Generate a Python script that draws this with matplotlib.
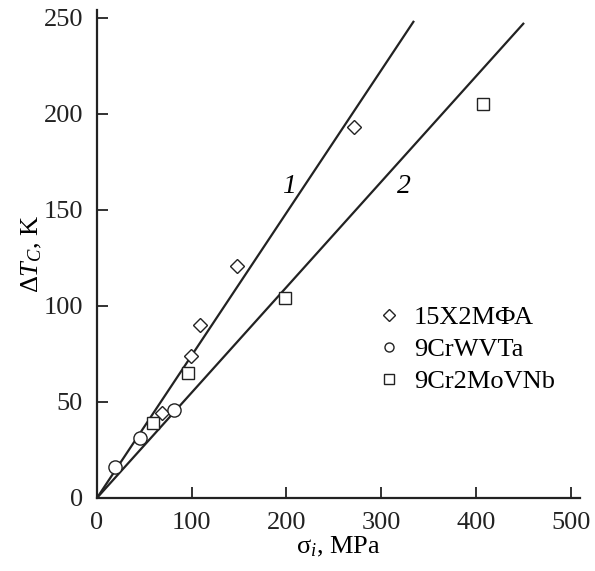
import matplotlib
matplotlib.use('Agg')
import matplotlib.pyplot as plt

plt.rcParams['font.family'] = ['Liberation Serif', 'DejaVu Serif']
plt.rcParams['mathtext.fontset'] = 'custom'
plt.rcParams['mathtext.rm'] = 'Liberation Serif'
plt.rcParams['mathtext.it'] = 'Liberation Serif:italic'

# data
steel_a_x = [69, 99, 109, 148, 271]
steel_a_y = [44, 74, 90, 121, 193]
steel_b_x = [19, 45, 81]
steel_b_y = [16, 31, 46]
steel_c_x = [59, 96, 198, 407]
steel_c_y = [39, 65, 104, 205]
fit1_x = [0, 334]
fit1_y = [0, 248]
fit2_x = [0, 450]
fit2_y = [0, 247]

fig = plt.figure(figsize=(5.95, 5.71), dpi=100)
ax = fig.add_axes([0.163, 0.128, 0.812, 0.854])

ax.plot(fit1_x, fit1_y, color='#222222', lw=1.6)
ax.plot(fit2_x, fit2_y, color='#222222', lw=1.6)

mk = dict(linestyle='none', mfc='white', mec='#222222', mew=1.0)
ax.plot(steel_a_x, steel_a_y, marker='D', ms=7.5, label='15Х2МФА', **mk)
ax.plot(steel_b_x, steel_b_y, marker='o', ms=9.5, label='9CrWVTa', **mk)
ax.plot(steel_c_x, steel_c_y, marker='s', ms=9, label='9Cr2MoVNb', **mk)

ax.text(203, 162, '1', fontsize=20, style='italic', ha='center', va='center')
ax.text(324, 162, '2', fontsize=20, style='italic', ha='center', va='center')

ax.set_xlim(0, 510)
ax.set_ylim(0, 254)
ax.set_xticks([0, 100, 200, 300, 400, 500])
ax.set_yticks([0, 50, 100, 150, 200, 250])
ax.spines['top'].set_visible(False)
ax.spines['right'].set_visible(False)
for s in ('left', 'bottom'):
    ax.spines[s].set_linewidth(1.6)
    ax.spines[s].set_color('#222222')
ax.tick_params(direction='in', length=8, width=1.3, labelsize=19, pad=10,
               colors='#222222')

ax.set_xlabel('σ$_i$, MPa', fontsize=19, labelpad=1)
ax.set_ylabel(r'$\Delta T_C$, K', fontsize=19, labelpad=0)

leg = ax.legend(loc='upper left', bbox_to_anchor=(0.585, 0.395), frameon=False,
                fontsize=19, borderpad=0, handlelength=0.7, handletextpad=0.6,
                labelspacing=0.33, borderaxespad=0)
for h in leg.legend_handles:
    h.set_markersize(6.5)

fig.savefig('out.png', dpi=100)
